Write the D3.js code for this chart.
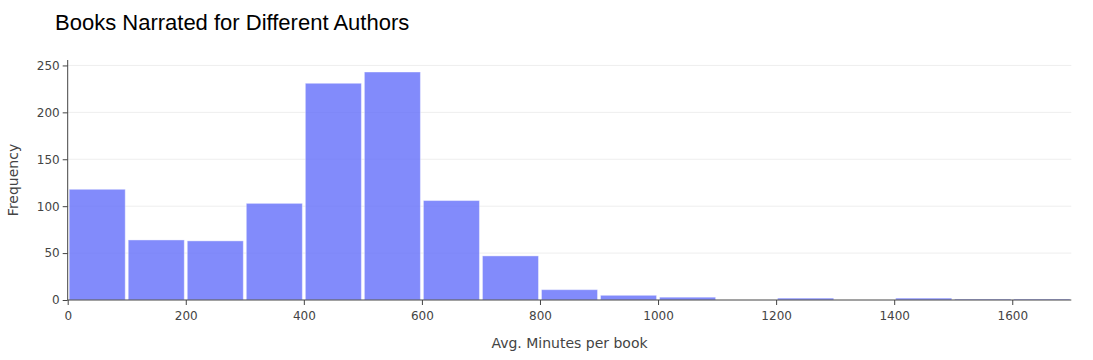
<!DOCTYPE html>
<html><head><meta charset="utf-8">
<script src="https://cdn.jsdelivr.net/npm/d3@7"></script>
<style>body{margin:0;background:#fff}</style>
</head><body>
<svg id="c" width="1093" height="360"></svg>
<script>
const binStarts = [0,100,200,300,400,500,600,700,800,900,1000,1100,1200,1300,1400,1500,1600];
const binWidth = 100;
const counts = [118,64,63,103,231,243,106,47,11,5,3,0,2,0,2,1,1];
const xTicks = [0,200,400,600,800,1000,1200,1400,1600];
const yTicks = [0,50,100,150,200,250];
const title = "Books Narrated for Different Authors";
const xTitle = "Avg. Minutes per book";
const yTitle = "Frequency";

const svg = d3.select("#c");
const m = {l:67.7, r:1071.3, t:60, b:300};
const x = d3.scaleLinear().domain([0,1700]).range([m.l,m.r]);
const y = d3.scaleLinear().domain([0,255.8]).range([m.b,m.t]);
const font = "'DejaVu Sans', Verdana, sans-serif";

// gridlines
svg.append("g").selectAll("line").data(yTicks.filter(d=>d>0)).join("line")
  .attr("x1",m.l).attr("x2",m.r).attr("y1",d=>y(d)).attr("y2",d=>y(d))
  .attr("stroke","#eee").attr("stroke-width",1);

// bars
svg.append("g").selectAll("rect").data(binStarts.map((s,i)=>({s,c:counts[i]})).filter(d=>d.c>0)).join("rect")
  .attr("x",d=>x(d.s)+1.5).attr("width",d=>x(d.s+binWidth)-x(d.s)-3)
  .attr("y",d=>y(d.c)).attr("height",d=>y(0)-y(d.c))
  .attr("fill","#636efa").attr("fill-opacity",0.8)
  .attr("stroke","#ffffff").attr("stroke-opacity",0.4).attr("stroke-width",1);

// axes
const xa = svg.append("g").attr("transform",`translate(0,${m.b})`)
  .call(d3.axisBottom(x).tickValues(xTicks).tickFormat(d3.format("d")).tickSize(5).tickSizeOuter(0).tickPadding(6));
const ya = svg.append("g").attr("transform",`translate(${m.l},0)`)
  .call(d3.axisLeft(y).tickValues(yTicks).tickFormat(d3.format("d")).tickSize(5).tickSizeOuter(0).tickPadding(3));
[xa,ya].forEach(a=>{
  a.select(".domain").attr("stroke","#444");
  a.selectAll(".tick line").attr("stroke","#444");
  a.selectAll("text").attr("fill","#444").style("font-family",font).style("font-size","12px");
});
xa.select(".domain").attr("d",`M${m.l},0H${m.r}`);
ya.select(".domain").attr("d",`M0,${m.t}V${m.b}`);

svg.append("text").attr("x",55).attr("y",30).text(title)
  .style("font-family","'Liberation Sans', Arial, sans-serif").style("font-size","22px").attr("fill","#000");
svg.append("text").attr("x",(m.l+m.r)/2).attr("y",348).attr("text-anchor","middle").text(xTitle)
  .style("font-family",font).style("font-size","14px").attr("fill","#444");
svg.append("text").attr("transform",`translate(18,${(m.t+m.b)/2}) rotate(-90)`).attr("text-anchor","middle").text(yTitle)
  .style("font-family",font).style("font-size","14px").attr("fill","#444");
</script>
</body></html>
